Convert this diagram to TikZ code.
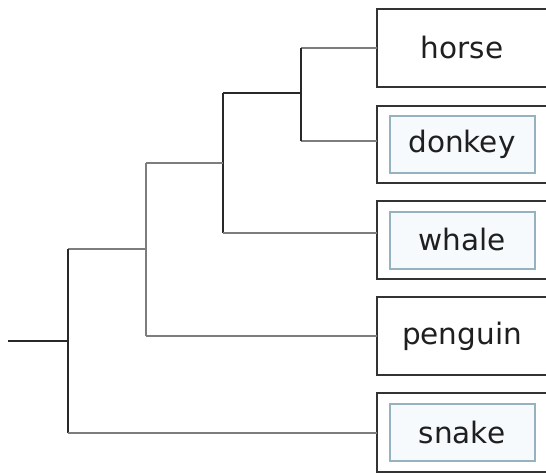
\documentclass[tikz,border=0pt]{standalone}
\usepackage{fontspec}
\setmainfont{DejaVu Sans}
\definecolor{innerline}{RGB}{150,178,192}
\definecolor{innerfill}{RGB}{246,250,253}
\definecolor{branchgray}{RGB}{125,125,125}
\definecolor{branchdark}{RGB}{40,40,40}
\begin{document}
\begin{tikzpicture}[x=1pt,y=-1pt,
  outerbox/.style={draw=black!80,line width=1.8pt,fill=white},
  innerbox/.style={draw=innerline,line width=1.1pt,fill=innerfill},
  taxon/.style={font=\fontsize{29.5}{31}\selectfont,text=black!88},
  branch/.style={draw=branchgray,line width=2.6pt},
  darkbranch/.style={draw=branchdark,line width=1.8pt}]
\useasboundingbox (0,0) rectangle (546,473);
% boxes
\draw[outerbox] (377,9) rectangle (552,87);
\draw[outerbox] (377,106) rectangle (552,183);
\draw[innerbox] (390,116) rectangle (535,173);
\draw[outerbox] (377,201) rectangle (552,279);
\draw[innerbox] (390,212) rectangle (535,269);
\draw[outerbox] (377,297) rectangle (552,375);
\draw[outerbox] (377,393) rectangle (552,472);
\draw[innerbox] (390,404) rectangle (535,461);
\node[taxon] (horse) at (462,48) {horse};
\node[taxon] (donkey) at (462,144) {donkey};
\node[taxon] (whale) at (462,240) {whale};
\node[taxon] (penguin) at (462,336) {penguin};
\node[taxon] (snake) at (462,432) {snake};
% anchor coordinates on box left edges
\coordinate (eh) at (377,48);
\coordinate (ed) at (377,141);
\coordinate (ew) at (377,233);
\coordinate (ep) at (377,336);
\coordinate (es) at (377,433);
% internal nodes
\coordinate (n1) at (301,93);
\coordinate (n2) at (223,163);
\coordinate (n3) at (146,249);
\coordinate (n4) at (68,341);
\coordinate (root) at (8,341);
% branches
\draw[branch] (eh) -- (eh -| n1);
\draw[branch] (ed) -- (ed -| n1);
\draw[darkbranch] (eh -| n1) -- (ed -| n1);
\draw[darkbranch] (n1) -- (n1 -| n2);
\draw[darkbranch] (n2 |- n1) -- (n2 |- ew);
\draw[branch] (ew) -- (ew -| n2);
\draw[branch] (n2) -- (n2 -| n3);
\draw[branch] (n3 |- n2) -- (n3 |- ep);
\draw[branch] (ep) -- (ep -| n3);
\draw[branch] (n3) -- (n3 -| n4);
\draw[darkbranch] (n4 |- n3) -- (n4 |- es);
\draw[branch] (es) -- (es -| n4);
\draw[darkbranch] (root) -- (n4);
\end{tikzpicture}
\end{document}
